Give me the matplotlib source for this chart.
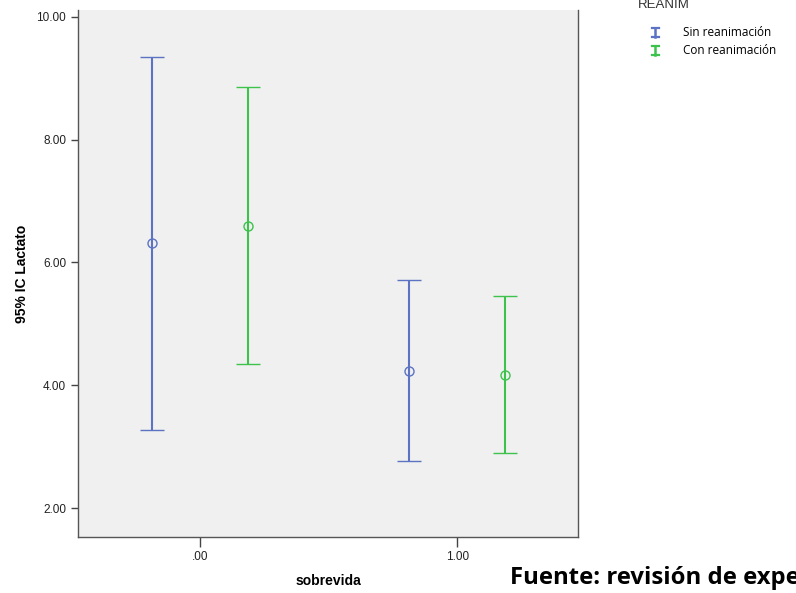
import matplotlib.pyplot as plt
from matplotlib.lines import Line2D

plt.rcParams["font.family"] = ["Liberation Sans", "DejaVu Sans"]

groups = [0.0, 1.0]
group_labels = [".00", "1.00"]
series = ["Sin reanimación", "Con reanimación"]

# mean, lower and upper limit of the 95% CI per group
mean_sin = [6.32, 4.24]
low_sin = [3.28, 2.76]
high_sin = [9.34, 5.72]

mean_con = [6.60, 4.17]
low_con = [4.34, 2.89]
high_con = [8.86, 5.45]

colors = ["#5b73c2", "#3dc24c"]
offset = 0.186

W, H = 796, 593
fig = plt.figure(figsize=(7.96, 5.93), dpi=100)
ax = fig.add_axes([78 / W, 1 - 537 / H, 500 / W, 527 / H])
ax.set_facecolor("#f0f0f0")

for k, (m, lo, hi) in enumerate([(mean_sin, low_sin, high_sin),
                                 (mean_con, low_con, high_con)]):
    xs = [g + (2 * k - 1) * offset for g in groups]
    yerr = [[mi - l for mi, l in zip(m, lo)], [h - mi for mi, h in zip(m, hi)]]
    ax.errorbar(xs, m, yerr=yerr, fmt="o", mfc="none", mec=colors[k],
                ms=6.5, mew=1.0, ecolor=colors[k], elinewidth=1.5,
                capsize=8.6, capthick=1.8)

ax.set_xlim(-0.475, 1.47)
ax.set_ylim(1.53, 10.11)
ax.set_xticks(groups)
ax.set_xticklabels(group_labels)
ax.set_yticks([2, 4, 6, 8, 10])
ax.set_yticklabels(["2.00", "4.00", "6.00", "8.00", "10.00"])
ax.tick_params(axis="both", labelsize=8.5, length=5, width=1, color="#444444",
               labelcolor="#222222")
ax.tick_params(axis="x", length=7, pad=3)
for s in ax.spines.values():
    s.set_color("#555555")
    s.set_linewidth(1.0)
ax.spines["top"].set_visible(False)

ax.set_ylabel("95% IC Lactato", fontsize=10, fontweight="bold", labelpad=5)
ax.set_xlabel("sobrevida", fontsize=10, fontweight="bold", labelpad=8)

# legend drawn by hand (SPSS style)
fig.text(638 / W, 1 - 5 / H, "REANIM", fontsize=9.5, color="#333333",
         va="center", ha="left")
for i, (name, c) in enumerate(zip(series, colors)):
    yc = 33 + 18 * i
    xc = 655
    fig.add_artist(Line2D([xc / W, xc / W], [1 - (yc - 5) / H, 1 - (yc + 4) / H],
                          color=c, lw=1.8))
    for yy in (yc - 5, yc + 4):
        fig.add_artist(Line2D([(xc - 3.5) / W, (xc + 3.5) / W],
                              [1 - yy / H, 1 - yy / H], color=c, lw=1.6))
    fig.text(683 / W, 1 - yc / H, name, fontsize=8.5, family="Open Sans",
             va="center", ha="left")

fig.text(510 / W, 1 - 578 / H, "Fuente: revisión de expedientes",
         fontsize=17.2, fontweight="bold", family="Open Sans", va="center",
         ha="left")

plt.savefig("out.png", dpi=100)
